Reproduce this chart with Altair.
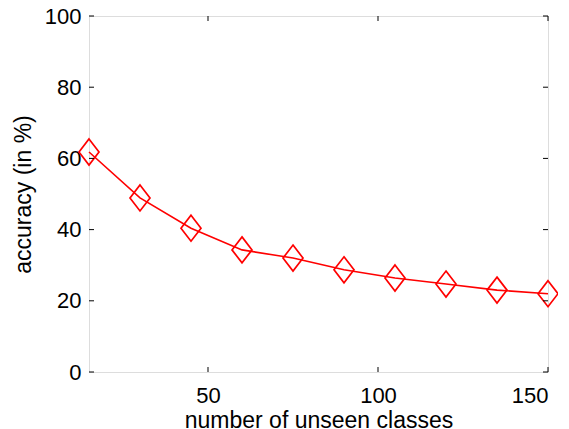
import altair as alt
import pandas as pd

classes = [15, 30, 45, 60, 75, 90, 105, 120, 135, 150]
accuracy = [61.8, 48.9, 40.4, 34.3, 32.0, 28.7, 26.4, 24.7, 23.0, 22.0]

x_ticks = [50, 100, 150]
y_ticks = [0, 20, 40, 60, 80, 100]

df = pd.DataFrame({"classes": classes, "accuracy": accuracy})
FONT = "Liberation Sans"

xscale = alt.Scale(domain=[15, 150], nice=False, zero=False)
yscale = alt.Scale(domain=[0, 100], nice=False)

xax = alt.Axis(values=x_ticks, title="number of unseen classes", tickSize=0,
               labelPadding=13, titlePadding=3, grid=False, domain=False,
               labelFont=FONT, titleFont=FONT, labelFontSize=22, titleFontSize=23,
               titleFontWeight="normal", labelColor="black", titleColor="black")
yax = alt.Axis(values=y_ticks, title="accuracy (in %)", tickSize=0,
               labelPadding=8, titlePadding=9, grid=False, domain=False,
               labelFont=FONT, titleFont=FONT, labelFontSize=22, titleFontSize=23,
               titleFontWeight="normal", labelColor="black", titleColor="black")

diamond = "M0,-1.3L1,0L0,1.3L-1,0Z"

line = alt.Chart(df).mark_line(color="#ff0000", strokeWidth=1.6).encode(
    x=alt.X("classes:Q", scale=xscale, axis=xax),
    y=alt.Y("accuracy:Q", scale=yscale, axis=yax),
)
pts = alt.Chart(df).mark_point(shape=diamond, size=400, filled=False, opacity=1,
                               color="#ff0000", strokeWidth=1.7).encode(
    x=alt.X("classes:Q", scale=xscale),
    y=alt.Y("accuracy:Q", scale=yscale),
)

xt = pd.DataFrame({"t": x_ticks})
yt = pd.DataFrame({"t": y_ticks})
tick_style = dict(color="black", thickness=1, size=5, opacity=1)

bottom_ticks = alt.Chart(xt).mark_tick(orient="vertical", yOffset=-2.5, **tick_style).encode(
    x=alt.X("t:Q", scale=xscale), y=alt.datum(0, scale=yscale))
top_ticks = alt.Chart(xt).mark_tick(orient="vertical", yOffset=2.5, **tick_style).encode(
    x=alt.X("t:Q", scale=xscale), y=alt.datum(100, scale=yscale))
left_ticks = alt.Chart(yt).mark_tick(orient="horizontal", xOffset=2.5, **tick_style).encode(
    y=alt.Y("t:Q", scale=yscale), x=alt.datum(15, scale=xscale))
right_ticks = alt.Chart(yt).mark_tick(orient="horizontal", xOffset=-2.5, **tick_style).encode(
    y=alt.Y("t:Q", scale=yscale), x=alt.datum(150, scale=xscale))

chart = alt.layer(line, pts, bottom_ticks, top_ticks, left_ticks, right_ticks).properties(
    width=459, height=356,
    autosize=alt.AutoSizeParams(type="none"),
    padding={"left": 81, "top": 8, "right": 10, "bottom": 57},
).configure_view(stroke="black", strokeWidth=1.2).configure(background="white")

chart.save("out.html", embed_options={"renderer": "svg", "actions": False})
